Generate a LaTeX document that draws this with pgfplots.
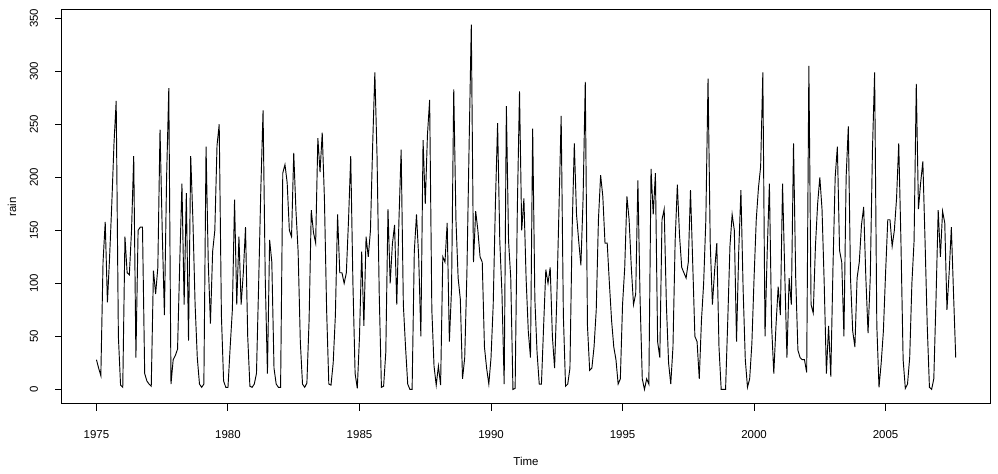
\documentclass[border=0pt]{standalone}
\usepackage{fontspec}
\setmainfont{Liberation Sans}
\usepackage{pgfplots}
\usepackage{pgfplotstable}
\pgfplotsset{compat=1.18}

% monthly rain, Jan 1975 .. Sep 2007, one row per month (12 per line = one year)
\pgfplotstableread[header=false,row sep=\\]{
28\\ 20\\ 13\\ 120\\ 158\\ 82\\ 125\\ 175\\ 232\\ 272\\ 50\\ 4\\
2\\ 144\\ 110\\ 108\\ 150\\ 220\\ 30\\ 150\\ 153\\ 153\\ 15\\ 8\\
5\\ 3\\ 112\\ 90\\ 115\\ 245\\ 150\\ 70\\ 200\\ 284\\ 5\\ 28\\
32\\ 38\\ 120\\ 194\\ 80\\ 185\\ 46\\ 220\\ 160\\ 80\\ 30\\ 5\\
2\\ 5\\ 229\\ 120\\ 62\\ 130\\ 150\\ 230\\ 250\\ 70\\ 8\\ 2\\
2\\ 40\\ 75\\ 179\\ 80\\ 144\\ 80\\ 110\\ 153\\ 50\\ 3\\ 2\\
5\\ 15\\ 100\\ 190\\ 263\\ 105\\ 15\\ 141\\ 120\\ 20\\ 5\\ 2\\
2\\ 204\\ 212\\ 195\\ 150\\ 144\\ 223\\ 169\\ 130\\ 45\\ 5\\ 2\\
6\\ 65\\ 169\\ 148\\ 138\\ 237\\ 205\\ 242\\ 180\\ 75\\ 5\\ 4\\
25\\ 70\\ 165\\ 110\\ 110\\ 100\\ 110\\ 160\\ 220\\ 100\\ 15\\ 1\\
50\\ 130\\ 60\\ 144\\ 125\\ 150\\ 230\\ 299\\ 220\\ 90\\ 2\\ 3\\
35\\ 170\\ 100\\ 137\\ 155\\ 80\\ 160\\ 226\\ 80\\ 40\\ 5\\ 0\\
0\\ 130\\ 165\\ 125\\ 50\\ 235\\ 175\\ 240\\ 273\\ 75\\ 22\\ 4\\
22\\ 4\\ 125\\ 120\\ 157\\ 45\\ 95\\ 283\\ 160\\ 105\\ 85\\ 10\\
30\\ 110\\ 230\\ 344\\ 120\\ 168\\ 150\\ 125\\ 120\\ 40\\ 20\\ 5\\
30\\ 80\\ 175\\ 251\\ 140\\ 90\\ 5\\ 267\\ 140\\ 105\\ 0\\ 1\\
170\\ 281\\ 150\\ 180\\ 105\\ 55\\ 30\\ 246\\ 85\\ 35\\ 5\\ 5\\
60\\ 113\\ 100\\ 115\\ 50\\ 20\\ 85\\ 170\\ 258\\ 70\\ 3\\ 5\\
20\\ 150\\ 232\\ 165\\ 140\\ 117\\ 180\\ 290\\ 60\\ 18\\ 20\\ 40\\
75\\ 160\\ 202\\ 182\\ 138\\ 138\\ 100\\ 65\\ 40\\ 28\\ 5\\ 10\\
80\\ 115\\ 182\\ 160\\ 115\\ 80\\ 90\\ 197\\ 85\\ 10\\ 0\\ 10\\
5\\ 208\\ 165\\ 204\\ 45\\ 30\\ 160\\ 170\\ 80\\ 25\\ 5\\ 40\\
140\\ 193\\ 145\\ 115\\ 110\\ 105\\ 120\\ 188\\ 120\\ 50\\ 45\\ 10\\
65\\ 100\\ 160\\ 293\\ 138\\ 80\\ 112\\ 138\\ 40\\ 0\\ 0\\ 0\\
65\\ 135\\ 165\\ 150\\ 45\\ 130\\ 188\\ 95\\ 28\\ 2\\ 10\\ 43\\
105\\ 160\\ 190\\ 210\\ 299\\ 50\\ 130\\ 194\\ 60\\ 15\\ 60\\ 97\\
70\\ 194\\ 110\\ 30\\ 105\\ 80\\ 232\\ 105\\ 37\\ 30\\ 28\\ 28\\
16\\ 305\\ 80\\ 72\\ 135\\ 175\\ 200\\ 170\\ 100\\ 15\\ 60\\ 12\\
115\\ 200\\ 229\\ 131\\ 120\\ 50\\ 200\\ 248\\ 105\\ 55\\ 40\\ 105\\
120\\ 155\\ 172\\ 105\\ 53\\ 105\\ 225\\ 299\\ 60\\ 2\\ 25\\ 55\\
110\\ 160\\ 160\\ 135\\ 150\\ 180\\ 232\\ 140\\ 28\\ 1\\ 5\\ 30\\
100\\ 140\\ 288\\ 170\\ 195\\ 215\\ 140\\ 60\\ 2\\ 0\\ 10\\ 85\\
169\\ 125\\ 168\\ 157\\ 75\\ 110\\ 153\\ 90\\ 30\\
}\raindata

\begin{document}
\begin{tikzpicture}
\begin{axis}[
  at={(0,0)}, anchor=south west,
  scale only axis, width=696pt, height=295.5pt,
  xmin=1973.69, xmax=2008.97, ymin=-13.76, ymax=357.76,
  xtick={1975,1980,...,2005}, ytick={0,50,...,350},
  tick align=outside, major tick length=5.25pt,
  xtick pos=bottom, ytick pos=left,
  tick style={black, line width=0.75pt},
  axis line style={line width=0.75pt},
  /pgf/number format/assume math mode=true,
  x tick label style={/pgf/number format/1000 sep={}, anchor=center, yshift=-18pt},
  y tick label style={xshift=-15.75pt, rotate=90, anchor=center},
  tick label style={font=\fontsize{8.6}{10}\selectfont},
  xlabel={Time}, ylabel={rain},
  xlabel style={at={([yshift=-42.75pt]axis description cs:0.5,0)}, anchor=center},
  ylabel style={at={([xshift=-37.5pt]axis description cs:0,0.5)}, anchor=center},
  label style={font=\fontsize{8.6}{10}\selectfont},
]
\addplot[black, line width=0.7pt] table[x expr={1975+\coordindex/12}, y index=0] {\raindata};
\end{axis}
\pgfresetboundingbox
\path[use as bounding box] (-46.5pt,-52.5pt) rectangle (702pt,303pt);
\end{tikzpicture}
\end{document}
